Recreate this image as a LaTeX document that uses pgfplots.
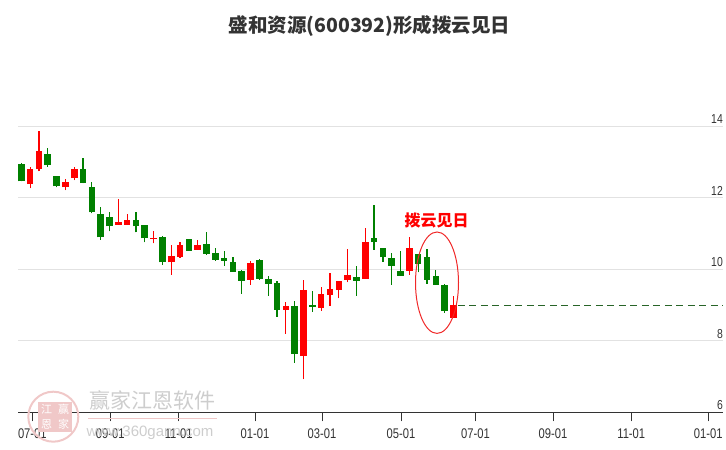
\documentclass[border=0pt]{standalone}
\usepackage{pgfplots}
\pgfplotsset{compat=1.18}
\usepackage{pgfplotstable}
\usepackage{fontspec}
\setmainfont{Liberation Sans}
\newfontfamily\narrow[FakeStretch=0.8]{Liberation Sans}
\newfontfamily\cjk{Noto Sans CJK SC}

\definecolor{upred}{RGB}{255,0,0}
\definecolor{dngreen}{RGB}{0,128,0}
\definecolor{gridgray}{RGB}{226,226,226}
\definecolor{txt}{RGB}{51,51,51}
\definecolor{lastline}{RGB}{40,100,40}
\definecolor{wm}{RGB}{205,205,205}
\definecolor{wmpink}{RGB}{240,200,200}

% weekly candles, i = week index
\pgfplotstableread{
i  o     h     l     c
2  12.38 12.85 12.27 12.79
3  12.80 13.86 12.74 13.30
6  12.29 12.51 12.21 12.45
7  12.55 12.85 12.49 12.79
12 11.25 11.95 11.25 11.33
13 11.25 11.55 11.25 11.39
16 10.85 11.07 10.72 10.86
18 10.19 10.68 9.85  10.37
19 10.35 10.77 10.32 10.68
21 10.55 10.82 10.55 10.68
27 9.71  10.23 9.57  10.18
31 8.87  9.08  8.19  8.97
33 7.57  9.70  6.93  9.42
35 8.92  9.50  8.84  9.31
36 9.28  9.90  8.98  9.45
37 9.42  9.67  9.19  9.67
38 9.71  10.57 9.64  9.84
40 9.74  11.14 9.74  10.77
45 9.96  10.91 9.85  10.60
50 8.64  9.25  8.64  9.00
}\up

\pgfplotstableread{
i  o     h     l     c
1  12.93 12.96 12.46 12.46
4  13.21 13.38 12.87 12.91
5  12.62 12.62 12.29 12.32
8  12.79 13.10 12.41 12.41
9  12.31 12.45 11.56 11.59
10 11.55 11.75 10.83 10.89
11 11.47 11.61 11.06 11.20
14 11.38 11.61 11.03 11.20
15 11.24 11.24 10.75 10.86
17 10.91 10.94 10.13 10.19
20 10.85 10.85 10.52 10.52
22 10.71 11.05 10.41 10.44
23 10.46 10.60 10.24 10.27
24 10.32 10.51 10.10 10.24
25 10.21 10.35 9.93  9.93
26 9.95  9.98  9.32  9.68
28 10.26 10.29 9.70  9.73
29 9.73  9.81  9.26  9.60
30 9.62  9.67  8.67  8.87
32 8.97  9.11  7.38  7.63
34 9.00  9.39  8.81  8.95
39 9.78  10.09 9.26  9.68
41 10.88 11.81 10.55 10.75
42 10.60 10.60 10.21 10.33
43 10.32 10.46 9.57  10.10
44 9.96  10.51 9.82  9.82
46 10.43 10.43 9.91  10.16
47 10.35 10.57 9.60  9.71
48 9.81  9.98  9.57  9.57
49 9.56  9.59  8.78  8.83
}\down

\pgfplotsset{candle/.style={only marks, mark size=0pt,
  mark options={draw=none, fill=none}, forget plot}}

\begin{document}
\begin{tikzpicture}
\begin{axis}[
  at={(18pt,37.7pt)}, anchor=south west,
  scale only axis, width=705pt, height=367.3pt,
  xmin=0.626, xmax=80.56, ymin=6, ymax=16.27,
  axis x line=bottom, axis y line=right,
  x axis line style={-, draw=txt, line width=0.8pt},
  y axis line style={draw=none},
  tick align=outside, major tick length=9pt,
  xtick style={draw=txt, line width=0.8pt},
  ytick style={draw=none},
  xtick={2.25,11.09,18.85,27.50,35.09,44.05,52.50,61.28,70.16,78.89},
  xticklabels={07-01,09-01,11-01,01-01,03-01,05-01,07-01,09-01,11-01,01-01},
  ytick={6,8,10,12,14},
  yticklabels={6,8,10,12,14},
  ymajorgrids, grid style={gridgray, line width=0.8pt},
  xticklabel style={font=\narrow\fontsize{14}{14}\selectfont, text=txt, yshift=-4pt},
  yticklabel style={font=\narrow\fontsize{13}{13}\selectfont, text=txt,
    anchor=south east, inner sep=2pt, xshift=-7pt},
  clip=false,
]
% wicks
\addplot[candle, error bars/.cd, y dir=plus, y explicit, error mark=none,
  error bar style={draw=upred, line width=1.2pt, solid}]
  table[x=i, y=l, y error plus expr=\thisrow{h}-\thisrow{l}] {\up};
\addplot[candle, error bars/.cd, y dir=plus, y explicit, error mark=none,
  error bar style={draw=dngreen, line width=1.2pt, solid}]
  table[x=i, y=l, y error plus expr=\thisrow{h}-\thisrow{l}] {\down};
% bodies
\addplot[candle, error bars/.cd, y dir=plus, y explicit, error mark=none,
  error bar style={draw=upred, line width=6.6pt, solid}]
  table[x=i, y=o, y error plus expr={max(\thisrow{c}-\thisrow{o},0.035)}] {\up};
\addplot[candle, error bars/.cd, y dir=plus, y explicit, error mark=none,
  error bar style={draw=dngreen, line width=6.6pt, solid}]
  table[x=i, y=c, y error plus expr={max(\thisrow{o}-\thisrow{c},0.035)}] {\down};
% last close
\addplot[lastline, line width=0.9pt, dash pattern=on 7pt off 4.5pt, forget plot]
  coordinates {(50.5,9.00) (80.56,9.00)};
\end{axis}

% title and annotation
\node[font=\cjk\bfseries\fontsize{19.5}{21}\selectfont, text=txt] at (369.5pt,424pt)
  {盛和资源(600392)形成拨云见日};
\node[font=\cjk\bfseries\fontsize{16}{18}\selectfont, text=upred] at (436.5pt,229.5pt)
  {拨云见日};
\draw[color={rgb,255:red,240;green,40;blue,40}, line width=1pt]
  (437pt,167.3pt) ellipse [x radius=21.5pt, y radius=50.7pt];

% watermark
\draw[wmpink, line width=2pt] (53.3pt,33.3pt) circle [radius=25pt];
\fill[wmpink] (38pt,18pt) rectangle (72pt,48pt);
\node[font=\cjk\fontsize{11}{11}\selectfont, text=white, inner sep=0pt] at (46.5pt,40.5pt) {江};
\node[font=\cjk\fontsize{11}{11}\selectfont, text=white, inner sep=0pt] at (63.5pt,40.5pt) {赢};
\node[font=\cjk\fontsize{11}{11}\selectfont, text=white, inner sep=0pt] at (46.5pt,25.5pt) {恩};
\node[font=\cjk\fontsize{11}{11}\selectfont, text=white, inner sep=0pt] at (63.5pt,25.5pt) {家};
\node[font=\cjk\fontsize{21}{22}\selectfont, text=wm] at (152.5pt,50pt) {赢家江恩软件};
\draw[wmpink, line width=1pt] (88pt,31pt) -- (217pt,31pt);
\node[font=\fontsize{15}{15}\selectfont, text=wm] at (150pt,17.5pt) {www.360gann.com};

\pgfresetboundingbox
\path (0,0) rectangle (726pt,450pt);
\end{tikzpicture}
\end{document}
